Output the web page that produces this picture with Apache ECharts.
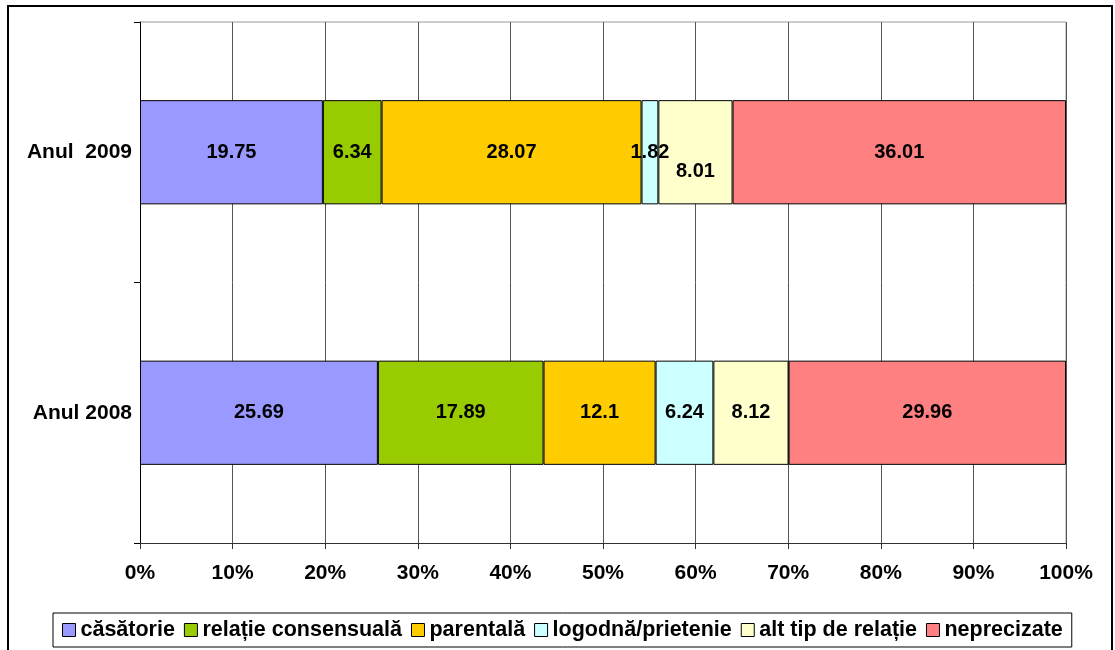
<!DOCTYPE html>
<html lang="ro">
<head>
    <meta charset="UTF-8">
    <title>Tip de relatie 2008-2009</title>
    <script src="https://cdn.jsdelivr.net/npm/echarts@6/dist/echarts.min.js"></script>
</head>
<body style="margin:0">
<div id="main" style="width: 1115px;height:650px;"></div>

<script type="text/javascript">
    var years = ['Anul 2008', 'Anul  2009'];
    var seriesNames = ['căsătorie', 'relație consensuală', 'parentală', 'logodnă/prietenie', 'alt tip de relație', 'neprecizate'];
    var casatorie = [25.69, 19.75];
    var consensuala = [17.89, 6.34];
    var parentala = [12.1, 28.07];
    var logodna = [6.24, 1.82];
    var altTip = [8.12, 8.01];
    var neprecizate = [29.96, 36.01];
    var colors = ['#9999FF', '#99CC00', '#FFCC00', '#CCFFFF', '#FFFFCC', '#FF8080'];
    var allValues = [casatorie, consensuala, parentala, logodna, altTip, neprecizate];

    var font = 'Liberation Sans, Arial, sans-serif';
    var myChart = echarts.init(document.getElementById('main'));

    var series = seriesNames.map(function (name, i) {
        return {
            name: name,
            type: 'bar',
            stack: 'total',
            barWidth: '40%',
            itemStyle: {color: colors[i], borderColor: '#000', borderWidth: 1},
            label: {
                show: true,
                position: 'inside',
                color: '#000',
                fontWeight: 'bold',
                fontSize: 20,
                fontFamily: font
            },
            data: allValues[i].map(function (v, j) {
                // eticheta 8.01 apare mai jos in original
                if (i === 4 && j === 1) {
                    return {value: v, label: {offset: [0, 19]}};
                }
                return v;
            })
        };
    });

    var option = {
        animation: false,
        textStyle: {fontFamily: font},
        grid: {left: 140, right: 49, top: 22, bottom: 107},
        legend: {
            bottom: 3,
            left: 53,
            data: seriesNames,
            icon: 'rect',
            itemWidth: 13,
            itemHeight: 13,
            itemGap: 9,
            padding: [6, 9],
            borderColor: '#000',
            borderWidth: 1,
            textStyle: {fontSize: 21.5, fontWeight: 'bold', color: '#000', fontFamily: font},
            itemStyle: {borderColor: '#000', borderWidth: 1}
        },
        xAxis: {
            type: 'value',
            min: 0,
            max: 100,
            interval: 10,
            axisLine: {show: true, lineStyle: {color: '#333'}},
            axisTick: {show: true, length: 6, lineStyle: {color: '#333'}},
            axisLabel: {
                formatter: '{value}%',
                margin: 20,
                fontSize: 21,
                fontWeight: 'bold',
                color: '#000'
            },
            splitLine: {show: true, lineStyle: {color: '#555', width: 1}}
        },
        yAxis: {
            type: 'category',
            data: years,
            axisLine: {show: true, lineStyle: {color: '#000'}},
            axisTick: {show: true, length: 6, lineStyle: {color: '#000'}},
            axisLabel: {margin: 8, fontSize: 21, fontWeight: 'bold', color: '#000'}
        },
        graphic: [
            {
                type: 'rect',
                shape: {x: 8, y: 6, width: 1104, height: 660},
                style: {fill: null, stroke: '#000', lineWidth: 2}
            },
            {
                type: 'polyline',
                shape: {points: [[140, 22], [1066, 22], [1066, 543]]},
                style: {fill: null, stroke: '#999', lineWidth: 1}
            }
        ],
        series: series
    };

    myChart.setOption(option);
</script>
</body>
</html>
